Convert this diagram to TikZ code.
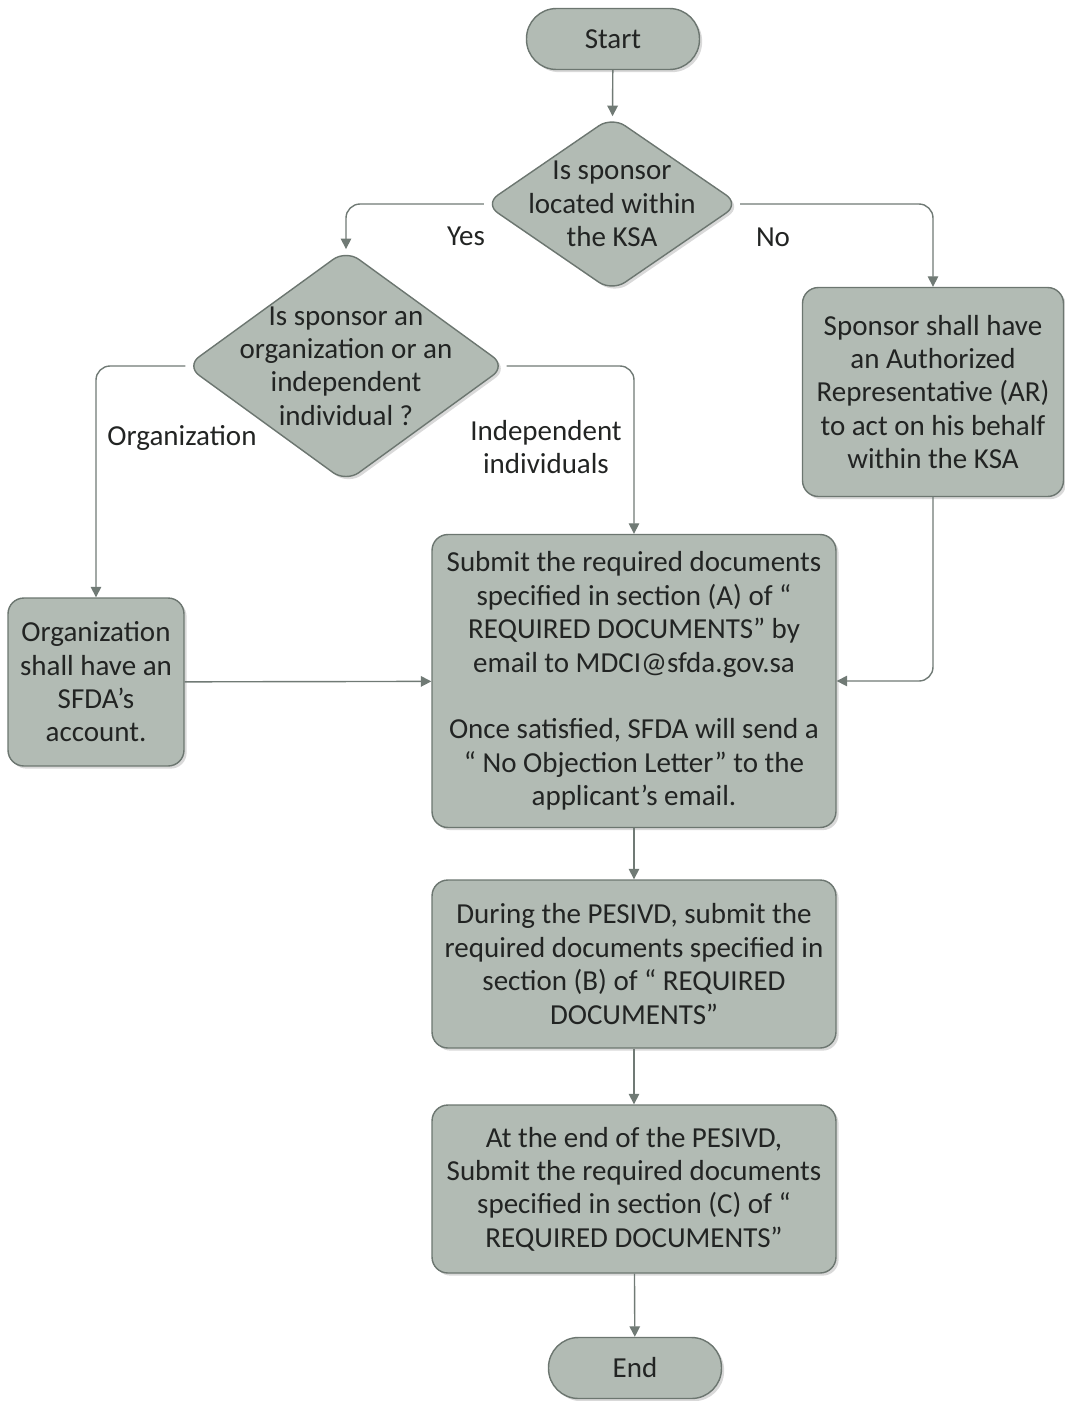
\documentclass[tikz,border=0pt]{standalone}
\usepackage{fontspec}
\setmainfont{Carlito}
\usetikzlibrary{shapes.geometric,arrows.meta,shadows}

\definecolor{boxfill}{RGB}{178,187,180}
\definecolor{boxline}{RGB}{108,118,112}
\definecolor{arrowcol}{RGB}{112,122,117}
\definecolor{textcol}{RGB}{34,36,35}

\tikzset{
  shade box/.style={draw=boxline, fill=boxfill, line width=0.8pt,
    drop shadow={shadow xshift=1.5pt, shadow yshift=-1.5pt, opacity=0.25, fill=black!60}},
  procbox/.style={shade box, rounded corners=9pt, align=center, text=textcol},
  termbox/.style={shade box, rounded corners=0.6cm, text=textcol,
    minimum width=3.46cm, minimum height=1.22cm},
  decision/.style={shade box, diamond, rounded corners=9pt, inner sep=0pt},
  conn/.style={draw=arrowcol, line width=0.8pt, rounded corners=8pt,
    -{Triangle[width=6pt,length=6pt]}},
  lab/.style={text=textcol, align=center}
}

\begin{document}
\begin{tikzpicture}[x=0.02cm, y=-0.02cm, font=\fontsize{16.5}{19}\selectfont]

\useasboundingbox (0,0) rectangle (1065,1401);

\node[termbox] (start) at (613,39) {Start};

\node[decision, minimum width=5.1cm, minimum height=3.5cm,
  label={[lab]center:Is sponsor\\located within\\the KSA}] (q1) at (612,204) {};

\node[decision, minimum width=6.4cm, minimum height=4.65cm,
  label={[lab]center:Is sponsor an\\organization or an\\independent\\individual ?}] (q2) at (346,366) {};

\node[procbox, minimum width=5.22cm, minimum height=4.18cm] (ar) at (933,392)
  {Sponsor shall have\\an Authorized\\Representative (AR)\\to act on his behalf\\within the KSA};

\node[procbox, minimum width=3.52cm, minimum height=3.36cm] (org) at (96,682)
  {Organization\\shall have an\\SFDA’s\\account.};

\node[procbox, minimum width=8.08cm, minimum height=5.86cm] (subA) at (634,681)
  {Submit the required documents\\specified in section (A) of “\\REQUIRED DOCUMENTS” by\\email to MDCI@sfda.gov.sa\\[19pt]Once satisfied, SFDA will send a\\“ No Objection Letter” to the\\applicant’s email.};

\node[procbox, minimum width=8.08cm, minimum height=3.36cm] (subB) at (634,964)
  {During the PESIVD, submit the\\required documents specified in\\section (B) of “ REQUIRED\\DOCUMENTS”};

\node[procbox, minimum width=8.08cm, minimum height=3.36cm] (subC) at (634,1189)
  {At the end of the PESIVD,\\Submit the required documents\\specified in section (C) of “\\REQUIRED DOCUMENTS”};

\node[termbox] (end) at (635,1368) {End};

% branch labels
\node[lab] (yes) at (466,236) {Yes};
\node[lab] (no) at (773,237) {No};
\node[lab] (orglab) at (182,438) {Organization};
\node[lab] (indlab) at (546,447) {Independent\\individuals};

\draw[conn] (start) -- (q1);
\draw[conn] (q1.west) -| (q2.north);
\draw[conn] (q1.east) -| (ar.north);
\draw[conn] (q2.west) -| (org.north);
\draw[conn] (q2.east) -| (subA.north);
\draw[conn] (org) -- (subA);
\draw[conn] (ar.south) |- (subA.east);
\draw[conn] (subA) -- (subB);
\draw[conn] (subB) -- (subC);
\draw[conn] (subC) -- (end);

\end{tikzpicture}
\end{document}
